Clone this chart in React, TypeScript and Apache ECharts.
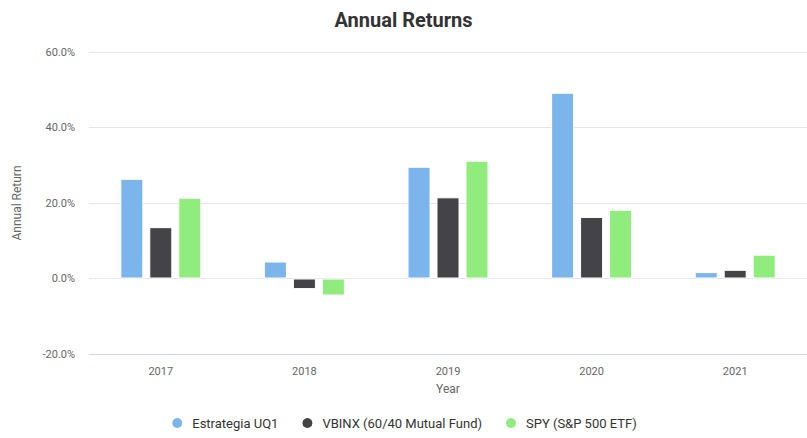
import React, { useEffect, useRef } from "react";
import * as echarts from "echarts";

const years = ["2017", "2018", "2019", "2020", "2021"];
const estrategia = [26.4, 4.5, 29.6, 49.2, 1.7];
const vbinx = [13.6, -2.8, 21.5, 16.3, 2.3];
const spy = [21.4, -4.5, 31.2, 18.2, 6.3];
const seriesNames = ["Estrategia UQ1", "VBINX (60/40 Mutual Fund)", "SPY (S&P 500 ETF)"];
const colors = ["#7cb5ec", "#434348", "#90ed7d"];

export default function App() {
  const ref = useRef<HTMLDivElement>(null);
  useEffect(() => {
    if (!ref.current) return;
    const chart = echarts.init(ref.current, undefined, { renderer: "svg" });
    const font = "Roboto, 'Noto Sans', sans-serif";
    const data = [estrategia, vbinx, spy];
    chart.setOption({
      animation: false,
      textStyle: { fontFamily: font },
      title: {
        text: "Annual Returns",
        left: "center",
        top: 5,
        textStyle: { fontFamily: font, fontSize: 20, fontWeight: "bold", color: "#333333" },
      },
      legend: {
        bottom: 3,
        left: "center",
        icon: "circle",
        itemWidth: 12,
        itemHeight: 12,
        itemGap: 22,
        textStyle: { fontFamily: font, fontSize: 13, color: "#333333", padding: [0, 0, 0, 4] },
        data: seriesNames,
      },
      grid: { left: 89, width: 722, top: 52, bottom: 84 },
      xAxis: {
        type: "category",
        data: years,
        name: "Year",
        nameLocation: "middle",
        nameGap: 29,
        nameTextStyle: { fontFamily: font, fontSize: 12, color: "#666666" },
        axisLine: { onZero: false, lineStyle: { color: "#ccd6eb", width: 1 } },
        axisTick: { show: false },
        axisLabel: { fontFamily: font, fontSize: 11, color: "#666666", margin: 12 },
      },
      yAxis: {
        type: "value",
        min: -20,
        max: 60,
        interval: 20,
        name: "Annual Return",
        nameLocation: "middle",
        nameGap: 66,
        nameRotate: 90,
        nameTextStyle: { fontFamily: font, fontSize: 12, color: "#666666" },
        axisLine: { show: false },
        axisTick: { show: false },
        axisLabel: {
          fontFamily: font,
          fontSize: 11,
          color: "#666666",
          margin: 14,
          formatter: (v: number) => v.toFixed(1) + "%",
        },
        splitLine: { lineStyle: { color: "#e6e6e6", width: 1 } },
      },
      series: seriesNames.map((name, i) => ({
        name,
        type: "bar",
        data: data[i],
        barWidth: 23,
        barGap: "26%",
        itemStyle: { color: colors[i], borderColor: "#ffffff", borderWidth: 1 },
      })),
    });
    return () => chart.dispose();
  }, []);
  return (
    <div
      ref={ref}
      style={{ position: "fixed", left: 0, top: 0, width: 807, height: 438, background: "#ffffff" }}
    />
  );
}
